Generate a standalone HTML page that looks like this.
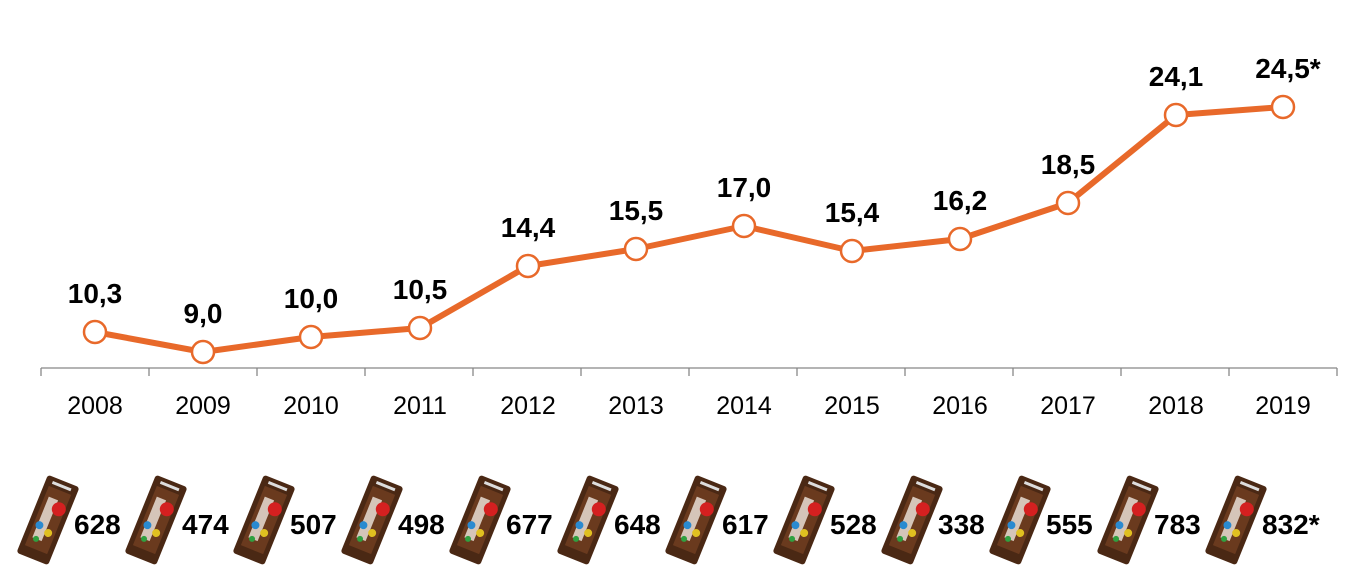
<!DOCTYPE html>
<html><head><meta charset="utf-8"><style>
body{margin:0;background:#fff;}
svg text{font-family:"Liberation Sans",sans-serif;}
</style></head><body>
<svg width="1366" height="580" xmlns="http://www.w3.org/2000/svg">
<defs>
<g id="pk">
<g transform="rotate(22)">
<rect x="-17" y="-42" width="34" height="84" rx="3" fill="#4a2814"/>
<rect x="-12" y="-32" width="24" height="64" fill="#6a3a1e"/>
<rect x="-8" y="-22" width="10" height="44" fill="#f0e8e0" opacity="0.8"/>
<circle cx="6" cy="-14" r="7" fill="#d42020"/>
<circle cx="-6" cy="8" r="4" fill="#2a8ad0"/>
<circle cx="5" cy="12" r="4" fill="#e0c020"/>
<circle cx="-4" cy="22" r="3" fill="#30a040"/>
<rect x="-10" y="-38" width="20" height="3" fill="#ddd"/>
</g>
</g>
</defs>
<line x1="41" y1="368" x2="1337" y2="368" stroke="#888" stroke-width="1.3"/>
<g stroke="#888" stroke-width="1.3">
<line x1="41" y1="368" x2="41" y2="376"/><line x1="149" y1="368" x2="149" y2="376"/><line x1="257" y1="368" x2="257" y2="376"/><line x1="365" y1="368" x2="365" y2="376"/><line x1="473" y1="368" x2="473" y2="376"/><line x1="581" y1="368" x2="581" y2="376"/><line x1="689" y1="368" x2="689" y2="376"/><line x1="797" y1="368" x2="797" y2="376"/><line x1="905" y1="368" x2="905" y2="376"/><line x1="1013" y1="368" x2="1013" y2="376"/><line x1="1121" y1="368" x2="1121" y2="376"/><line x1="1229" y1="368" x2="1229" y2="376"/><line x1="1337" y1="368" x2="1337" y2="376"/>
</g>
<polyline fill="none" stroke="#e8692a" stroke-width="6" stroke-linejoin="round" points="95,332 203,352 311,337 420,328 528,266 636,249 744,226 852,251 960,239 1068,203 1176,115 1283,107"/>
<g fill="#fff" stroke="#e8692a" stroke-width="2.5">
<circle cx="95" cy="332" r="11"/><circle cx="203" cy="352" r="11"/><circle cx="311" cy="337" r="11"/><circle cx="420" cy="328" r="11"/><circle cx="528" cy="266" r="11"/><circle cx="636" cy="249" r="11"/><circle cx="744" cy="226" r="11"/><circle cx="852" cy="251" r="11"/><circle cx="960" cy="239" r="11"/><circle cx="1068" cy="203" r="11"/><circle cx="1176" cy="115" r="11"/><circle cx="1283" cy="107" r="11"/>
</g>
<g font-size="28" font-weight="bold" text-anchor="middle" fill="#000">
<text x="95" y="303">10,3</text><text x="203" y="323">9,0</text><text x="311" y="308">10,0</text><text x="420" y="299">10,5</text><text x="528" y="237">14,4</text><text x="636" y="220">15,5</text><text x="744" y="197">17,0</text><text x="852" y="222">15,4</text><text x="960" y="210">16,2</text><text x="1068" y="174">18,5</text><text x="1176" y="86">24,1</text><text x="1288" y="78">24,5*</text>
</g>
<g font-size="25" text-anchor="middle" fill="#000">
<text x="95" y="414">2008</text><text x="203" y="414">2009</text><text x="311" y="414">2010</text><text x="420" y="414">2011</text><text x="528" y="414">2012</text><text x="636" y="414">2013</text><text x="744" y="414">2014</text><text x="852" y="414">2015</text><text x="960" y="414">2016</text><text x="1068" y="414">2017</text><text x="1176" y="414">2018</text><text x="1283" y="414">2019</text>
</g>
<g>
<use href="#pk" x="48" y="520"/><use href="#pk" x="156" y="520"/><use href="#pk" x="264" y="520"/><use href="#pk" x="372" y="520"/><use href="#pk" x="480" y="520"/><use href="#pk" x="588" y="520"/><use href="#pk" x="696" y="520"/><use href="#pk" x="804" y="520"/><use href="#pk" x="912" y="520"/><use href="#pk" x="1020" y="520"/><use href="#pk" x="1128" y="520"/><use href="#pk" x="1236" y="520"/>
</g>
<g font-size="28" font-weight="bold" fill="#000">
<text x="74" y="534">628</text><text x="182" y="534">474</text><text x="290" y="534">507</text><text x="398" y="534">498</text><text x="506" y="534">677</text><text x="614" y="534">648</text><text x="722" y="534">617</text><text x="830" y="534">528</text><text x="938" y="534">338</text><text x="1046" y="534">555</text><text x="1154" y="534">783</text><text x="1262" y="534">832*</text>
</g>
</svg>
</body></html>
